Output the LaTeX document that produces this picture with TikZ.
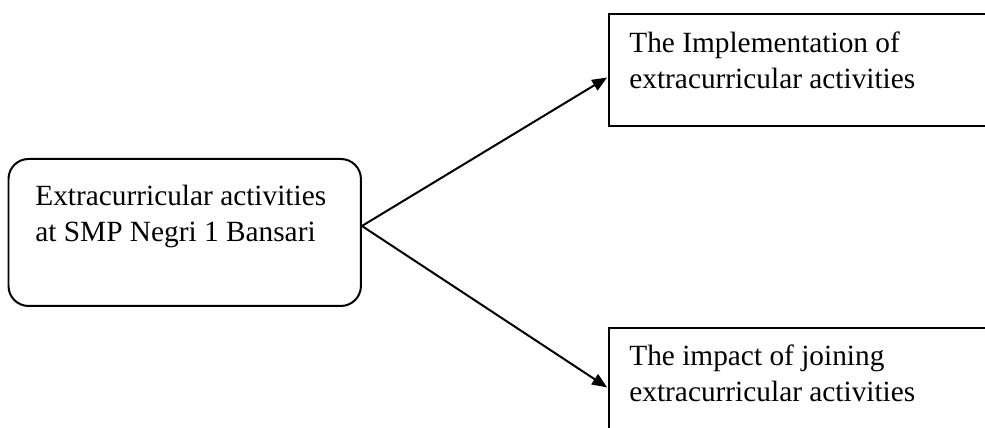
\documentclass[tikz,border=0pt]{standalone}
\usepackage{fontspec}
\setmainfont{Liberation Serif}
\usetikzlibrary{arrows.meta}
\usetikzlibrary{positioning}
\tikzset{
   every path/.style={>={Triangle[length=0.3cm,width=0.24cm]}},
   box/.style={draw,line width=0.04cm,anchor=north west,inner sep=0pt},
   roundbox/.style={box,rounded corners=0.4cm},
   boxtext/.style={anchor=base west,inner sep=0pt,align=left,
     font=\fontsize{16.7}{21}\selectfont},
   flow/.style={->,line width=0.04cm,shorten >=0.02cm},
}

\begin{document}
\begin{tikzpicture}[x=0.02cm, y=-0.02cm]
  \useasboundingbox (0,0) rectangle (985,428);
  \clip (0,0) rectangle (985,428);

  \node[roundbox, minimum width=7.05cm, minimum height=2.94cm] (src)    at (7.5, 158) {};
  \node[box,      minimum width=8cm,    minimum height=2.24cm] (impl)   at (608,  13) {};
  \node[box,      minimum width=8cm,    minimum height=2.24cm] (impact) at (608, 327) {};

  % base anchor sits on the last line
  \node[boxtext] (srctext)    at (35, 242)  {Extracurricular activities\\at SMP Negri 1 Bansari};
  \node[boxtext] (impltext)   at (629, 89)  {The Implementation of\\extracurricular activities};
  \node[boxtext] (impacttext) at (629, 402) {The impact of joining\\extracurricular activities};

  \coordinate (fork) at ([yshift=0.13cm]src.east);

  \draw[flow] (fork) -- ([yshift=-0.14cm]impl.west);
  \draw[flow] (fork) -- ([yshift=-0.08cm]impact.west);
\end{tikzpicture}
\end{document}
